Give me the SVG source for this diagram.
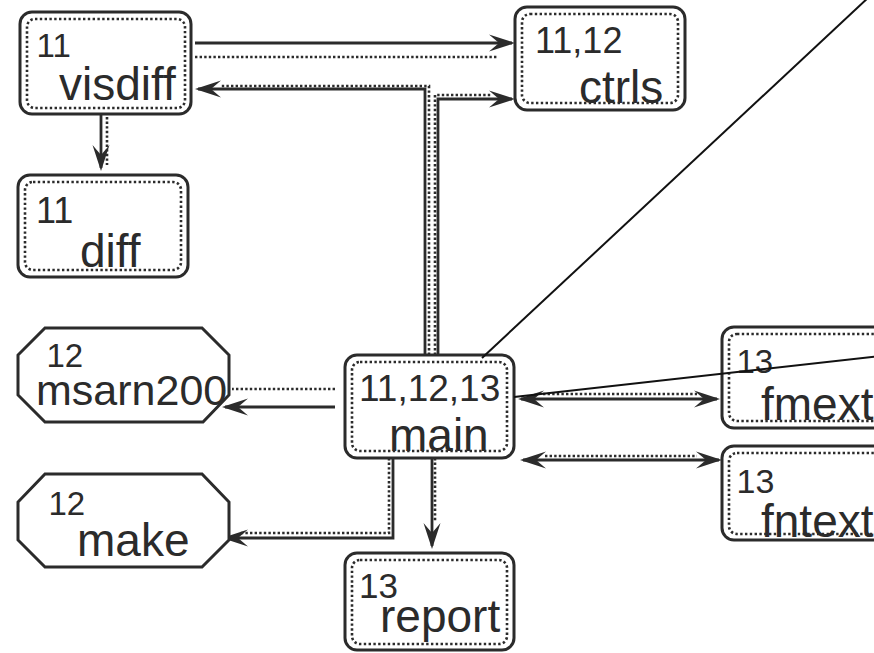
<svg xmlns="http://www.w3.org/2000/svg" width="874" height="653" viewBox="0 0 874 653">
  <style>
    .box { fill: #ffffff; stroke: #2b2b2b; stroke-width: 3; }
    .inner { fill: none; stroke: #2b2b2b; stroke-width: 2.6; stroke-dasharray: 2.4 2.4; }
    .num { font-family: "Liberation Sans", Arial, sans-serif; font-size: 33px; fill: #2b2b2b; }
    .name { font-family: "Liberation Sans", Arial, sans-serif; font-size: 46px; fill: #2b2b2b; }
    .solid { fill: none; stroke: #2b2b2b; stroke-width: 2.8; }
    .dot { fill: none; stroke: #2b2b2b; stroke-width: 2.6; stroke-dasharray: 2.4 2.2; }
    .thin { fill: none; stroke: #111111; stroke-width: 2; }
  </style>
  <defs>
    <marker id="arrow" viewBox="-28 -10 31 20" refX="-3" refY="0" markerWidth="31" markerHeight="20" markerUnits="userSpaceOnUse" orient="auto-start-reverse">
      <path d="M0,0 L-26,-8.5 L-16,0 L-26,8.5 Z" fill="#2b2b2b"/>
    </marker>
  </defs>

  <rect width="874" height="653" fill="#ffffff"/>

  <!-- connectors -->
  <g id="edges">
    <!-- visdiff -> ctrls -->
    <path class="solid" d="M195,43 H512" marker-end="url(#arrow)"/>
    <path class="dot" d="M195,57 H497"/>
    <!-- main -> visdiff -->
    <path class="solid" d="M425,355 V89 H198" marker-end="url(#arrow)"/>
    <path class="dot" d="M429,355 V86 H221"/>
    <!-- main -> ctrls -->
    <path class="solid" d="M438,355 V99 H512" marker-end="url(#arrow)"/>
    <path class="dot" d="M435,355 V95 H492"/>
    <!-- visdiff -> diff -->
    <path class="solid" d="M101,115 V168" marker-end="url(#arrow)"/>
    <path class="dot" d="M107,117 V165"/>
    <!-- main -> msarn200 -->
    <path class="solid" d="M335,407 H225" marker-end="url(#arrow)"/>
    <path class="dot" d="M335,389 H232"/>
    <!-- main -> make -->
    <path class="solid" d="M393,458 V538 H225" marker-end="url(#arrow)"/>
    <path class="dot" d="M389,458 V533 H240"/>
    <!-- main -> report -->
    <path class="solid" d="M432,458 V546" marker-end="url(#arrow)"/>
    <path class="dot" d="M435,458 V522"/>
    <!-- main <-> fmext -->
    <path class="solid" d="M521,399 H717" marker-start="url(#arrow)" marker-end="url(#arrow)"/>
    <path class="dot" d="M543,394 H697"/>
    <!-- main <-> fntext -->
    <path class="solid" d="M523,460 H719" marker-start="url(#arrow)" marker-end="url(#arrow)"/>
    <path class="dot" d="M545,456 H697"/>
  </g>

  <!-- nodes -->
  <g id="visdiff">
    <rect class="box" x="20" y="12" width="171" height="102" rx="12"/>
    <rect class="inner" x="27" y="19" width="158" height="89" rx="8"/>
    <text class="num" x="36.5" y="57" style="font-size:33px">11</text>
    <text class="name" x="59" y="100">visdiff</text>
  </g>
  <g id="ctrls">
    <rect class="box" x="515" y="7" width="170" height="103" rx="12"/>
    <rect class="inner" x="522" y="14" width="156" height="89" rx="8"/>
    <text class="num" x="535" y="53" style="font-size:36px">11,12</text>
    <text class="name" x="579" y="103" style="font-size:46px">ctrls</text>
  </g>
  <g id="diff">
    <rect class="box" x="18" y="175" width="170" height="102" rx="12"/>
    <rect class="inner" x="25" y="182" width="156" height="88" rx="8"/>
    <text class="num" x="36" y="223" style="font-size:36px">11</text>
    <text class="name" x="80" y="267">diff</text>
  </g>
  <g id="msarn200">
    <polygon class="box" points="45,328 202,328 229,355 229,395 203,422 45,422 18,395 18,355"/>
    <text class="num" x="46.5" y="367" style="font-size:33px">12</text>
    <text class="name" x="36" y="405" style="font-size:43px">msarn200</text>
  </g>
  <g id="make">
    <polygon class="box" points="45,474 202,474 229,502 229,540 202,567 45,567 18,540 18,502"/>
    <text class="num" x="48.5" y="515" style="font-size:33px">12</text>
    <text class="name" x="77" y="556">make</text>
  </g>
  <g id="main">
    <rect class="box" x="345" y="355" width="169" height="103" rx="12"/>
    <rect class="inner" x="352" y="362" width="155" height="89" rx="8"/>
    <text class="num" x="359" y="401" style="font-size:37px">11,12,13</text>
    <text class="name" x="389" y="451">main</text>
  </g>
  <g id="report">
    <rect class="box" x="345" y="553" width="169" height="97" rx="12"/>
    <rect class="inner" x="352" y="560" width="155" height="84" rx="8"/>
    <text class="num" x="359" y="598" style="font-size:35px">13</text>
    <text class="name" x="380" y="632">report</text>
  </g>
  <g id="fmext">
    <rect class="box" x="722" y="327" width="175" height="101" rx="12"/>
    <rect class="inner" x="729" y="334" width="161" height="87" rx="8"/>
    <text class="num" x="736.5" y="373" style="font-size:33px">13</text>
    <text class="name" x="761" y="420">fmext</text>
  </g>
  <g id="fntext">
    <rect class="box" x="722" y="446" width="175" height="94" rx="12"/>
    <rect class="inner" x="729" y="453" width="161" height="81" rx="8"/>
    <text class="num" x="736.5" y="493" style="font-size:34px">13</text>
    <text class="name" x="761" y="537">fntext</text>
  </g>

  <!-- long edges leaving the drawing area -->
  <g id="edges-out">
    <path class="thin" d="M482,358 L870,-4"/>
    <path class="thin" d="M514,397 L880,356"/>
  </g>
</svg>
